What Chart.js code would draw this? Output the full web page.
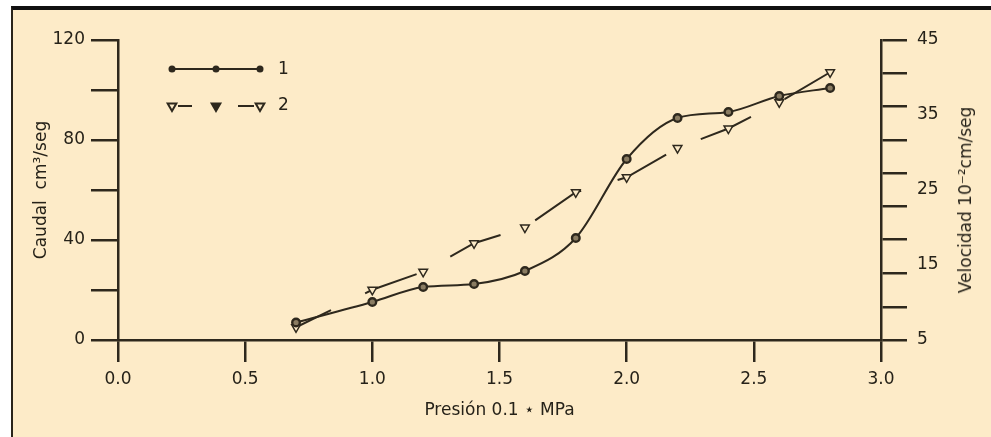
<!DOCTYPE html>
<html><head><meta charset="utf-8">
<script src="https://cdn.jsdelivr.net/npm/chart.js@4.4.1/dist/chart.umd.min.js"></script>
<style>
html,body{margin:0;padding:0;background:#fff;}
#wrap{position:relative;width:991px;height:437px;overflow:hidden;}
#frame{position:absolute;left:11px;top:6px;right:0;bottom:0;background:#fdebc8;border-top:4px solid #111;border-left:2px solid #2a241a;}
#cv{position:absolute;left:0;top:0;width:991px;height:437px;}
#rt{position:absolute;left:965px;top:200px;transform:translate(-50%,-50%) rotate(-90deg);white-space:nowrap;font:17px 'DejaVu Sans',sans-serif;color:#262219;}
</style></head>
<body>
<div id="wrap">
  <div id="frame"></div>
  <div id="cv"><canvas id="c"></canvas></div>
  <div id="rt">Velocidad 10⁻²cm/seg</div>
</div>
<script>
// ---- data ----
const pressure  = [0.7, 1.0, 1.2, 1.4, 1.6, 1.8, 2.0, 2.2, 2.4, 2.6, 2.8];
const caudal    = [7, 15.2, 21.2, 22.4, 27.6, 40.8, 72.4, 88.8, 91.2, 97.6, 100.8];
const velocidad = [6.7, 11.7, 14.1, 17.9, 20.0, 24.7, 26.7, 30.6, 33.2, 36.7, 40.7];
const seriesNames = ['1', '2'];
const xTicks = [0, 0.5, 1.0, 1.5, 2.0, 2.5, 3.0];
const leftTickMarks = [0, 20, 40, 60, 80, 100, 120];
const leftTickLabels = [0, 40, 80, 120];
const rightTickLabels = [5, 15, 25, 35, 45];
const rightTickMarks = [5, 9.4, 13.9, 18.4, 22.8, 27.2, 31.7, 36.2, 40.6, 45];
const xTitle = 'Presión 0.1 ⋆ MPa';
const yTitle = 'Caudal  cm³/seg';

const DARK = '#2e281d';
const BG = '#fdebc8';
const FONT = "'DejaVu Sans', sans-serif";
Chart.defaults.font.family = FONT;
Chart.defaults.font.size = 17;
Chart.defaults.color = '#262219';

const legendPlugin = {
  id: 'customLegend',
  afterDraw(chart) {
    const ctx = chart.ctx;
    const xs = [172, 216, 260];
    ctx.save();
    ctx.strokeStyle = DARK; ctx.fillStyle = DARK; ctx.lineWidth = 2;
    // row 1
    let y = 69;
    ctx.beginPath(); ctx.moveTo(xs[0], y); ctx.lineTo(xs[2], y); ctx.stroke();
    xs.forEach(x => { ctx.beginPath(); ctx.arc(x, y, 3.5, 0, Math.PI * 2); ctx.fill(); });
    // row 2
    y = 106;
    ctx.beginPath(); ctx.moveTo(178, y); ctx.lineTo(192, y); ctx.moveTo(238, y); ctx.lineTo(254, y); ctx.stroke();
    xs.forEach((x, i) => {
      ctx.fillStyle = i === 1 ? DARK : BG;
      Chart.helpers.drawPoint(ctx, {pointStyle: 'triangle', rotation: 180, radius: 5, borderWidth: 1.5}, x, y);
    });
    ctx.fillStyle = '#262219';
    ctx.font = '17px ' + FONT;
    ctx.textBaseline = 'middle';
    ctx.fillText(seriesNames[0], 278, 70);
    ctx.fillText(seriesNames[1], 278, 106);
    ctx.restore();
  }
};

new Chart(document.getElementById('c'), {
  type: 'line',
  data: {
    datasets: [
      {
        label: seriesNames[0],
        data: pressure.map((x, i) => ({x, y: caudal[i]})),
        yAxisID: 'y',
        borderColor: DARK, borderWidth: 2,
        cubicInterpolationMode: 'monotone',
        pointStyle: 'circle', pointRadius: 3.8, pointBorderWidth: 2.4,
        pointBackgroundColor: '#8a7c62', pointBorderColor: DARK
      },
      {
        label: seriesNames[1],
        data: pressure.map((x, i) => ({x, y: velocidad[i]})),
        yAxisID: 'y2',
        borderColor: DARK, borderWidth: 2,
        borderDash: [55, 38], borderDashOffset: 16,
        tension: 0,
        pointStyle: 'triangle', rotation: 180, pointRadius: 5, pointBorderWidth: 1.5,
        pointBackgroundColor: BG, pointBorderColor: DARK
      }
    ]
  },
  options: {
    responsive: true, maintainAspectRatio: false, animation: false,
    layout: {padding: {top: 40, left: 0, right: 0, bottom: 0}},
    plugins: {legend: {display: false}, tooltip: {enabled: false}},
    scales: {
      x: {
        type: 'linear', min: 0, max: 3, position: 'bottom',
        afterBuildTicks: s => { s.ticks = xTicks.map(v => ({value: v})); },
        afterFit: s => { s.height = 97; },
        ticks: {callback: v => Number(v).toFixed(1), padding: 7, maxRotation: 0},
        grid: {drawOnChartArea: false, drawTicks: true, tickLength: 22, color: DARK, lineWidth: 2.5},
        border: {display: true, color: DARK, width: 2.5},
        title: {display: true, text: xTitle, padding: {top: 0, bottom: 16}}
      },
      y: {
        type: 'linear', min: 0, max: 120, position: 'left',
        afterBuildTicks: s => { s.ticks = leftTickMarks.map(v => ({value: v})); },
        afterFit: s => { s.width = 118; },
        ticks: {callback: v => leftTickLabels.includes(v) ? String(v) : '', padding: 6},
        grid: {drawOnChartArea: false, drawTicks: true, tickLength: 27, color: DARK, lineWidth: 2.5},
        border: {display: true, color: DARK, width: 2.5},
        title: {display: true, text: yTitle, padding: {top: 31, bottom: 0}}
      },
      y3: {
        type: 'linear', min: 5, max: 45, position: 'right', weight: 0,
        afterBuildTicks: s => { s.ticks = rightTickMarks.map(v => ({value: v})); },
        afterFit: s => { s.width = 28; },
        ticks: {display: false},
        grid: {drawOnChartArea: false, drawTicks: true, tickLength: 26, color: DARK, lineWidth: 2.5},
        border: {display: true, color: DARK, width: 2.5}
      },
      y2: {
        type: 'linear', min: 5, max: 45, position: 'right', weight: 1,
        afterBuildTicks: s => { s.ticks = rightTickLabels.map(v => ({value: v})); },
        afterFit: s => { s.width = 82; },
        ticks: {padding: 8},
        grid: {display: false, drawTicks: false, drawOnChartArea: false},
        border: {display: false}
      }
    }
  },
  plugins: [legendPlugin]
});
</script>
</body></html>
